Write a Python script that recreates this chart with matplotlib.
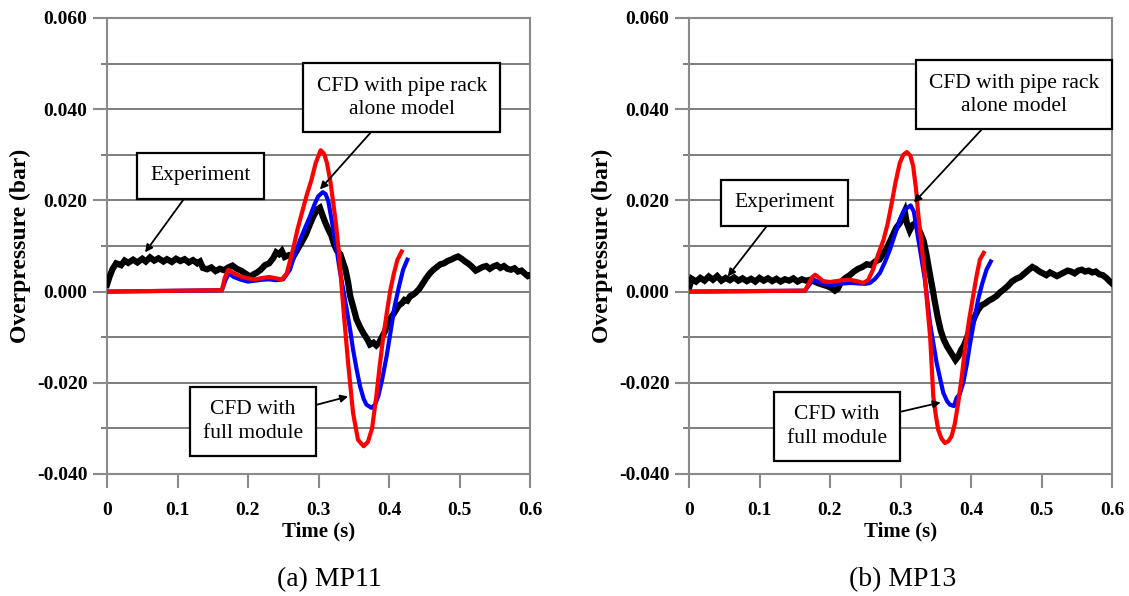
import numpy as np
import matplotlib
matplotlib.use("Agg")
import matplotlib.pyplot as plt
from matplotlib.ticker import MultipleLocator, FixedLocator

plt.rcParams['font.family'] = ['Liberation Serif', 'DejaVu Serif']

# ---------------------------------------------------------------------
# Data (time in s, overpressure in bar)
# ---------------------------------------------------------------------
# (a) MP11 - experiment
exp_a_t = [0.000, 0.003, 0.008, 0.013, 0.020, 0.025, 0.030, 0.037, 0.043, 0.050,
           0.055, 0.061, 0.067, 0.073, 0.080, 0.085, 0.092, 0.098, 0.104, 0.110,
           0.116, 0.122, 0.128, 0.132, 0.136, 0.142, 0.148, 0.154, 0.160, 0.166,
           0.172, 0.178, 0.184, 0.190, 0.196, 0.203, 0.208, 0.213, 0.218, 0.224,
           0.230, 0.236, 0.240, 0.244, 0.248, 0.252, 0.258, 0.264, 0.270, 0.276,
           0.282, 0.288, 0.293, 0.298, 0.302, 0.306, 0.310, 0.314, 0.318, 0.322,
           0.326, 0.331, 0.335, 0.338, 0.342, 0.345, 0.350, 0.354, 0.359, 0.364,
           0.369, 0.373, 0.378, 0.382, 0.386, 0.390, 0.394, 0.398, 0.402, 0.406,
           0.410, 0.414, 0.418, 0.422, 0.426, 0.430, 0.434, 0.438, 0.443, 0.448,
           0.453, 0.458, 0.463, 0.468, 0.473, 0.478, 0.483, 0.488, 0.493, 0.498,
           0.503, 0.508, 0.513, 0.518, 0.523, 0.528, 0.533, 0.538, 0.543, 0.548,
           0.553, 0.558, 0.563, 0.568, 0.573, 0.578, 0.583, 0.588, 0.593, 0.597,
           0.600]
exp_a_p = [0.0015, 0.0030, 0.0050, 0.0062, 0.0058, 0.0068, 0.0063, 0.0070, 0.0064, 0.0072,
           0.0066, 0.0075, 0.0068, 0.0073, 0.0066, 0.0071, 0.0065, 0.0072, 0.0067, 0.0071,
           0.0064, 0.0069, 0.0062, 0.0066, 0.0052, 0.0049, 0.0053, 0.0045, 0.0050, 0.0047,
           0.0053, 0.0057, 0.0050, 0.0046, 0.0040, 0.0033, 0.0038, 0.0042, 0.0048, 0.0058,
           0.0062, 0.0074, 0.0086, 0.0082, 0.0089, 0.0076, 0.0080, 0.0076, 0.0092, 0.0108,
           0.0125, 0.0148, 0.0166, 0.0180, 0.0184, 0.0166, 0.0150, 0.0136, 0.0124, 0.0104,
           0.0090, 0.0082, 0.0063, 0.0050, 0.0020, -0.0010, -0.0038, -0.0061, -0.0078, -0.0092,
           -0.0104, -0.0116, -0.0112, -0.0118, -0.0112, -0.0100, -0.0088, -0.0070, -0.0058, -0.0050,
           -0.0040, -0.0030, -0.0026, -0.0018, -0.0020, -0.0010, -0.0007, -0.0002, 0.0006, 0.0018,
           0.0030, 0.0040, 0.0048, 0.0054, 0.0060, 0.0062, 0.0067, 0.0070, 0.0074, 0.0077,
           0.0072, 0.0066, 0.0061, 0.0054, 0.0046, 0.0050, 0.0054, 0.0056, 0.0050, 0.0055,
           0.0058, 0.0052, 0.0056, 0.0050, 0.0048, 0.0051, 0.0044, 0.0046, 0.0039, 0.0034,
           0.0036]

# (a) MP11 - CFD with pipe rack alone model (blue)
rack_a_t = [0.000, 0.163, 0.168, 0.173, 0.180, 0.190, 0.200, 0.210, 0.220, 0.230,
            0.240, 0.250, 0.2595, 0.266, 0.274, 0.281, 0.288, 0.294, 0.2996, 0.306,
            0.310, 0.314, 0.321, 0.326, 0.330, 0.335, 0.340, 0.345, 0.349, 0.354,
            0.359, 0.364, 0.368, 0.3754, 0.380, 0.3847, 0.390, 0.3966, 0.402, 0.408,
            0.414, 0.420, 0.426]
rack_a_p = [0.0, 0.0003, 0.0025, 0.0040, 0.0032, 0.0026, 0.0022, 0.0024, 0.0026, 0.0027,
            0.0025, 0.0027, 0.0048, 0.0080, 0.0114, 0.0140, 0.0165, 0.0190, 0.0209, 0.0218,
            0.0214, 0.0198, 0.0136, 0.0090, 0.0048, 0.0005, -0.0039, -0.0085, -0.0127, -0.0170,
            -0.0208, -0.0235, -0.0248, -0.0255, -0.0248, -0.0230, -0.0195, -0.0142, -0.0090, -0.0032,
            0.0010, 0.0048, 0.0070]

# (a) MP11 - CFD with full module (red)
full_a_t = [0.000, 0.163, 0.167, 0.172, 0.180, 0.190, 0.200, 0.210, 0.220, 0.230,
            0.240, 0.248, 0.255, 0.260, 0.265, 0.270, 0.276, 0.283, 0.290, 0.296,
            0.303, 0.308, 0.312, 0.317, 0.321, 0.325, 0.329, 0.335, 0.342, 0.349,
            0.356, 0.364, 0.370, 0.376, 0.382, 0.387, 0.392, 0.397, 0.402, 0.407,
            0.412, 0.418]
full_a_p = [0.0, 0.0003, 0.0030, 0.0048, 0.0040, 0.0033, 0.0029, 0.0027, 0.0030, 0.0032,
            0.0029, 0.0027, 0.0040, 0.0070, 0.0100, 0.0135, 0.0170, 0.0210, 0.0245, 0.0282,
            0.0310, 0.0302, 0.0282, 0.0240, 0.0194, 0.0145, 0.0085, -0.0032, -0.0156, -0.0266,
            -0.0325, -0.0339, -0.0330, -0.0300, -0.0230, -0.0160, -0.0098, -0.0045, 0.0004, 0.0040,
            0.0070, 0.0088]

# (b) MP13 - experiment
exp_b_t = [0.000, 0.004, 0.010, 0.016, 0.022, 0.028, 0.034, 0.040, 0.046, 0.052,
           0.058, 0.064, 0.070, 0.076, 0.082, 0.088, 0.094, 0.100, 0.106, 0.112,
           0.118, 0.124, 0.130, 0.136, 0.142, 0.148, 0.154, 0.160, 0.166, 0.172,
           0.178, 0.184, 0.190, 0.196, 0.202, 0.207, 0.211, 0.216, 0.222, 0.228,
           0.234, 0.240, 0.246, 0.252, 0.258, 0.264, 0.270, 0.276, 0.282, 0.288,
           0.294, 0.299, 0.303, 0.306, 0.309, 0.313, 0.317, 0.321, 0.325, 0.329,
           0.333, 0.337, 0.341, 0.345, 0.349, 0.353, 0.357, 0.361, 0.366, 0.370,
           0.374, 0.378, 0.382, 0.386, 0.390, 0.395, 0.400, 0.405, 0.410, 0.415,
           0.420, 0.425, 0.430, 0.436, 0.441, 0.446, 0.452, 0.458, 0.464, 0.470,
           0.476, 0.482, 0.487, 0.492, 0.497, 0.502, 0.507, 0.512, 0.517, 0.522,
           0.527, 0.532, 0.537, 0.542, 0.547, 0.552, 0.557, 0.562, 0.567, 0.572,
           0.577, 0.582, 0.587, 0.592, 0.597, 0.600]
exp_b_p = [0.0008, 0.0028, 0.0022, 0.0030, 0.0024, 0.0033, 0.0026, 0.0034, 0.0024, 0.0030,
           0.0025, 0.0031, 0.0024, 0.0029, 0.0023, 0.0028, 0.0022, 0.0030, 0.0024, 0.0029,
           0.0023, 0.0028, 0.0022, 0.0027, 0.0024, 0.0029, 0.0022, 0.0027, 0.0024, 0.0026,
           0.0022, 0.0018, 0.0015, 0.0012, 0.0008, 0.0002, 0.0006, 0.0022, 0.0030, 0.0036,
           0.0044, 0.0050, 0.0054, 0.0060, 0.0058, 0.0066, 0.0070, 0.0084, 0.0100, 0.0120,
           0.0140, 0.0150, 0.0166, 0.0176, 0.0150, 0.0134, 0.0146, 0.0150, 0.0140, 0.0126,
           0.0110, 0.0080, 0.0044, 0.0010, -0.0025, -0.0058, -0.0085, -0.0104, -0.0120, -0.0130,
           -0.0140, -0.0150, -0.0142, -0.0128, -0.0118, -0.0098, -0.0076, -0.0056, -0.0040, -0.0030,
           -0.0026, -0.0020, -0.0016, -0.0010, -0.0002, 0.0004, 0.0012, 0.0022, 0.0028, 0.0032,
           0.0040, 0.0048, 0.0054, 0.0050, 0.0044, 0.0040, 0.0036, 0.0042, 0.0038, 0.0034,
           0.0038, 0.0042, 0.0046, 0.0044, 0.0040, 0.0046, 0.0048, 0.0044, 0.0046, 0.0042,
           0.0044, 0.0038, 0.0036, 0.0030, 0.0022, 0.0018]

# (b) MP13 - CFD with pipe rack alone model (blue)
rack_b_t = [0.000, 0.1645, 0.170, 0.175, 0.178, 0.185, 0.190, 0.200, 0.210, 0.220,
            0.230, 0.240, 0.250, 0.2567, 0.264, 0.2708, 0.278, 0.285, 0.292, 0.299,
            0.306, 0.3144, 0.319, 0.323, 0.329, 0.3346, 0.3418, 0.3512, 0.3607, 0.366,
            0.370, 0.3758, 0.3796, 0.384, 0.389, 0.394, 0.398, 0.404, 0.410, 0.416,
            0.422, 0.428]
rack_b_p = [0.0, 0.0002, 0.0014, 0.0024, 0.0025, 0.0020, 0.0017, 0.0015, 0.0016, 0.0018,
            0.0019, 0.0018, 0.0017, 0.0019, 0.0028, 0.0041, 0.0065, 0.0092, 0.0125, 0.0158,
            0.0180, 0.0189, 0.0175, 0.0136, 0.0080, 0.0026, -0.0069, -0.0156, -0.0222, -0.0240,
            -0.0248, -0.0251, -0.0233, -0.0225, -0.0200, -0.0160, -0.0120, -0.0068, -0.0018, 0.0018,
            0.0048, 0.0066]

# (b) MP13 - CFD with full module (red)
full_b_t = [0.000, 0.1645, 0.170, 0.175, 0.179, 0.185, 0.190, 0.200, 0.209, 0.218,
            0.228, 0.238, 0.247, 0.254, 0.261, 0.268, 0.276, 0.282, 0.2875, 0.293,
            0.299, 0.304, 0.309, 0.314, 0.318, 0.322, 0.325, 0.330, 0.3346, 0.338,
            0.342, 0.3465, 0.350, 0.3535, 0.358, 0.363, 0.368, 0.3725, 0.377, 0.3819,
            0.387, 0.3914, 0.397, 0.403, 0.408, 0.4126, 0.418]
full_b_p = [0.0, 0.0002, 0.0018, 0.0032, 0.0037, 0.0030, 0.0023, 0.0021, 0.0023, 0.0025,
            0.0026, 0.0023, 0.0019, 0.0025, 0.0048, 0.0080, 0.0114, 0.0150, 0.0194, 0.0240,
            0.0282, 0.0300, 0.0306, 0.0298, 0.0275, 0.0225, 0.0173, 0.0100, 0.0034, -0.0030,
            -0.0098, -0.0230, -0.0270, -0.0303, -0.0322, -0.0332, -0.0328, -0.0317, -0.0290, -0.0244,
            -0.0185, -0.0127, -0.0065, -0.0010, 0.0035, 0.0070, 0.0085]

x_ticks = [0, 0.1, 0.2, 0.3, 0.4, 0.5, 0.6]
x_ticklabels = ["0", "0.1", "0.2", "0.3", "0.4", "0.5", "0.6"]
y_ticks = [-0.04, -0.02, 0.0, 0.02, 0.04, 0.06]
y_ticklabels = ["-0.040", "-0.020", "0.000", "0.020", "0.040", "0.060"]

captions = ["(a) MP11", "(b) MP13"]

# annotation placement: (text x, text y, arrow tip x, arrow tip y) in data units
notes_a = {"exp": (0.133, 0.0254, 0.054, 0.0086),
           "rack": (0.418, 0.0425, 0.302, 0.0224),
           "full": (0.207, -0.0285, 0.342, -0.0230)}
notes_b = {"exp": (0.136, 0.0195, 0.055, 0.0033),
           "rack": (0.461, 0.0432, 0.319, 0.0195),
           "full": (0.210, -0.0296, 0.357, -0.0243)}

GRID = "#737373"
SPINE = "#8a8a8a"


def style_axes(ax):
    ax.set_xlim(0, 0.6)
    ax.set_ylim(-0.04, 0.06)
    ax.xaxis.set_major_locator(FixedLocator(x_ticks))
    ax.set_xticklabels(x_ticklabels)
    ax.yaxis.set_major_locator(FixedLocator(y_ticks))
    ax.set_yticklabels(y_ticklabels)
    ax.yaxis.set_minor_locator(MultipleLocator(0.01))
    ax.grid(True, axis="y", which="both", color=GRID, lw=1.3, zorder=0)
    ax.set_axisbelow(True)
    for s in ax.spines.values():
        s.set_color(SPINE)
        s.set_linewidth(1.5)
    ax.tick_params(axis="both", which="major", direction="out", length=10,
                   width=1.5, color=SPINE, labelsize=14)
    ax.tick_params(axis="y", which="major", pad=4)
    ax.tick_params(axis="x", which="major", pad=10)
    ax.tick_params(axis="y", which="minor", direction="out", length=4.5,
                   width=1.3, color=GRID)
    for lab in ax.get_xticklabels() + ax.get_yticklabels():
        lab.set_fontweight("bold")
    ax.set_xlabel("Time (s)", fontsize=15, fontweight="bold")
    ax.xaxis.set_label_coords(0.5, -0.127)
    ax.xaxis.label.set_va("center")
    ax.set_ylabel("Overpressure (bar)", fontsize=17, fontweight="bold")
    ax.yaxis.set_label_coords(-0.205, 0.5)
    ax.yaxis.label.set_va("center")


def add_note(ax, text, spec):
    tx, ty, px, py = spec
    ax.annotate(text, xy=(px, py), xytext=(tx, ty),
                ha="center", va="center", multialignment="center",
                fontsize=15.5, linespacing=1.3, zorder=10,
                annotation_clip=False,
                bbox=dict(boxstyle="square,pad=0.62", fc="white", ec="black", lw=1.6),
                arrowprops=dict(arrowstyle="-|>", color="black", lw=1.3,
                                mutation_scale=11, shrinkA=0, shrinkB=0))


fig = plt.figure(figsize=(11.29, 5.96), dpi=100)
ax_a = fig.add_axes([107 / 1129, 122 / 596, 423 / 1129, 456 / 596])
ax_b = fig.add_axes([689 / 1129, 122 / 596, 423 / 1129, 456 / 596])

panels = [
    (ax_a, exp_a_t, exp_a_p, rack_a_t, rack_a_p, full_a_t, full_a_p, notes_a),
    (ax_b, exp_b_t, exp_b_p, rack_b_t, rack_b_p, full_b_t, full_b_p, notes_b),
]

for ax, et, ep, rt, rp, ft, fp, notes in panels:
    style_axes(ax)
    ax.plot(et, ep, color="black", lw=4.5, solid_joinstyle="miter", zorder=3)
    ax.plot(rt, rp, color="#0000ff", lw=3.0, zorder=4)
    ax.plot(ft, fp, color="#ff0000", lw=3.0, zorder=5)
    add_note(ax, "Experiment", notes["exp"])
    add_note(ax, "CFD with pipe rack\nalone model", notes["rack"])
    add_note(ax, "CFD with\nfull module", notes["full"])

fig.text(329 / 1129, 1 - 580 / 596, captions[0], ha="center", va="center", fontsize=20)
fig.text(903 / 1129, 1 - 580 / 596, captions[1], ha="center", va="center", fontsize=20)

fig.savefig("out.png", dpi=100)
